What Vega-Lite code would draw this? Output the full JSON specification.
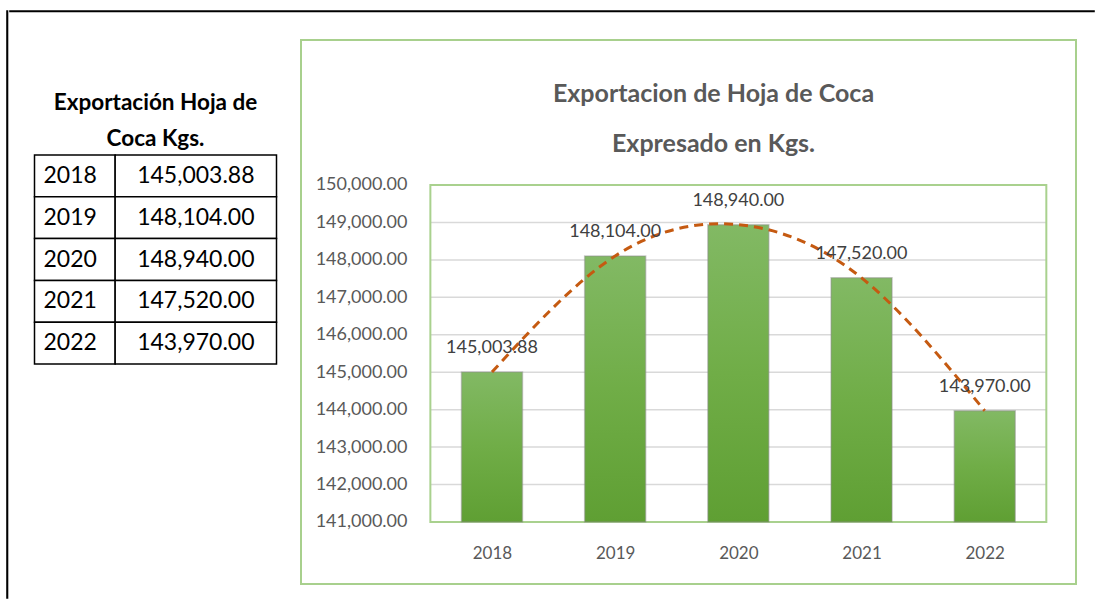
{
  "$schema": "https://vega.github.io/schema/vega-lite/v6.json",
  "background": "white",
  "padding": {"left": 6, "top": 10, "right": 0, "bottom": 0},
  "config": {"font": "Lato", "view": {"stroke": null}},
  "data": {"values": [
    {"year": 2018, "kg": 145003.88},
    {"year": 2019, "kg": 148104.00},
    {"year": 2020, "kg": 148940.00},
    {"year": 2021, "kg": 147520.00},
    {"year": 2022, "kg": 143970.00}
  ]},
  "spacing": 0,
  "hconcat": [
    {
      "data": {"values": []},
      "mark": "point",
      "encoding": {},
      "width": 0.5,
      "height": 587,
      "view": {"stroke": "#000000", "strokeWidth": 1.6}
    },
    {
      "spacing": 26,
      "vconcat": [
        {
          "data": {"values": []},
          "mark": "point",
          "encoding": {},
          "width": 1084,
          "height": 0.5,
          "view": {"stroke": "#000000", "strokeWidth": 1.6}
        },
        {
          "spacing": 22.5,
          "hconcat": [
            {
              "data": {"values": []},
              "mark": "point",
              "encoding": {},
              "width": 0.1,
              "height": 10
            },
            {
              "width": 242,
              "height": 324,
              "title": {"text": ["Exportación Hoja de", "Coca Kgs."], "anchor": "middle", "frame": "group", "baseline": "top", "offset": -110, "lineHeight": 36, "fontSize": 22.5, "fontWeight": "bold", "font": "Lato", "color": "#000000"},
              "encoding": {
                "y": {"field": "year", "type": "ordinal", "axis": null, "scale": {"paddingInner": 0, "paddingOuter": 0, "range": [115, 324]}}
              },
              "layer": [
                {
                  "mark": {"type": "rect", "fill": "white", "stroke": "#000000", "strokeWidth": 1.5},
                  "encoding": {
                    "x": {"datum": 0, "type": "quantitative", "scale": {"domain": [0, 3], "nice": false, "zero": false}, "axis": null},
                    "x2": {"datum": 1}
                  }
                },
                {
                  "mark": {"type": "rect", "fill": "white", "stroke": "#000000", "strokeWidth": 1.5},
                  "encoding": {
                    "x": {"datum": 1, "type": "quantitative"},
                    "x2": {"datum": 3}
                  }
                },
                {
                  "mark": {"type": "text", "align": "left", "baseline": "middle", "dx": 9, "fontSize": 23, "color": "#000000"},
                  "encoding": {
                    "x": {"datum": 0, "type": "quantitative"},
                    "text": {"field": "year", "type": "ordinal"}
                  }
                },
                {
                  "mark": {"type": "text", "align": "center", "baseline": "middle", "fontSize": 23, "color": "#000000"},
                  "encoding": {
                    "x": {"datum": 2, "type": "quantitative"},
                    "text": {"field": "kg", "type": "quantitative", "format": ",.2f"}
                  }
                }
              ]
            },
            {
              "width": 775,
              "height": 544,
              "view": {"stroke": "#a8d08d", "strokeWidth": 2},
              "title": {"text": ["Exportacion de Hoja de Coca", "Expresado en Kgs."], "anchor": "middle", "frame": "group", "baseline": "top", "offset": -117, "dx": 25, "lineHeight": 50, "fontSize": 25, "fontWeight": "bold", "font": "Lato", "color": "#595959"},
              "layer": [
                {
                  "data": {"values": [{"grid": 142000}, {"grid": 143000}, {"grid": 144000}, {"grid": 145000}, {"grid": 146000}, {"grid": 147000}, {"grid": 148000}, {"grid": 149000}]},
                  "mark": {"type": "rule", "color": "#d9d9d9", "strokeWidth": 1.5},
                  "encoding": {
                    "x": {"datum": 2017.5, "type": "quantitative", "scale": {"domain": [2016.4904, 2022.7003], "nice": false, "zero": false},
                      "axis": {"values": [2018, 2019, 2020, 2021, 2022], "format": "d", "offset": -62, "labelPadding": 23, "ticks": false, "tickSize": 0, "domain": false, "grid": false, "title": null, "labelFontSize": 17, "labelColor": "#595959", "labelFlush": false, "labelFont": "Lato"}},
                    "x2": {"datum": 2022.5},
                    "y": {"field": "grid", "type": "quantitative", "scale": {"domain": [139344, 153872], "nice": false, "zero": false},
                      "axis": {"values": [141000, 142000, 143000, 144000, 145000, 146000, 147000, 148000, 149000, 150000], "format": ",.2f", "offset": -126, "labelPadding": 20, "ticks": false, "tickSize": 0, "domain": false, "grid": false, "title": null, "labelFontSize": 18, "labelColor": "#595959", "labelOverlap": false, "labelFont": "Lato"}}
                  }
                },
                {
                  "data": {"values": [{}]},
                  "mark": {"type": "rect", "fill": null, "stroke": "#a9d18e", "strokeWidth": 2},
                  "encoding": {
                    "x": {"datum": 2017.5, "type": "quantitative"},
                    "x2": {"datum": 2022.5},
                    "y": {"datum": 141000, "type": "quantitative"},
                    "y2": {"datum": 150000}
                  }
                },
                {
                  "mark": {"type": "bar", "orient": "vertical", "width": 61, "stroke": "#8c8c8c", "strokeOpacity": 0.45, "strokeWidth": 1.5,
                    "color": {"gradient": "linear", "x1": 0, "y1": 0, "x2": 0, "y2": 1, "stops": [{"offset": 0, "color": "#82b964"}, {"offset": 0.5, "color": "#70ad47"}, {"offset": 1, "color": "#5f9f33"}]}},
                  "encoding": {
                    "x": {"field": "year", "type": "quantitative"},
                    "y": {"field": "kg", "type": "quantitative"},
                    "y2": {"datum": 141000}
                  }
                },
                {
                  "mark": {"type": "line", "interpolate": "natural", "strokeDash": [9, 6], "strokeWidth": 3, "color": "#c55a11"},
                  "encoding": {
                    "x": {"field": "year", "type": "quantitative"},
                    "y": {"field": "kg", "type": "quantitative"}
                  }
                },
                {
                  "mark": {"type": "text", "baseline": "middle", "align": "center", "dy": -24, "fontSize": 18, "color": "#404040"},
                  "encoding": {
                    "x": {"field": "year", "type": "quantitative"},
                    "y": {"field": "kg", "type": "quantitative"},
                    "text": {"field": "kg", "type": "quantitative", "format": ",.2f"}
                  }
                }
              ]
            }
          ]
        }
      ]
    }
  ]
}
